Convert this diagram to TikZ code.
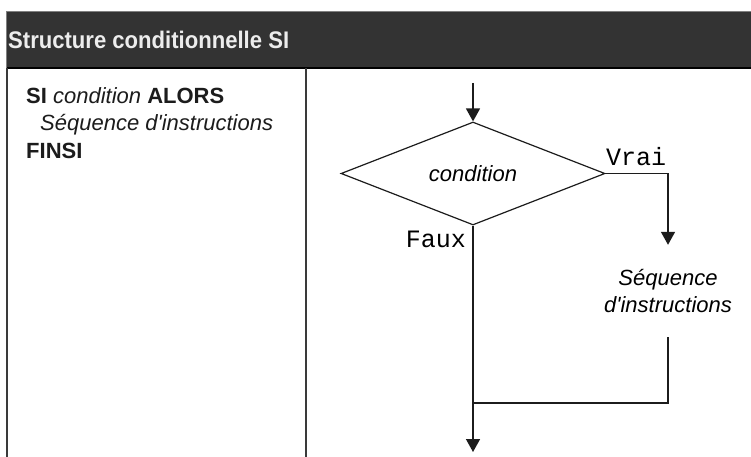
\documentclass[tikz,border=0pt]{standalone}
\usepackage{fontspec}
\setmainfont{Liberation Sans}
\newfontfamily\monofont{Liberation Mono}
\usepackage{graphicx}
\usepackage{xcolor}
\usetikzlibrary{arrows.meta,shapes.geometric}
\definecolor{bandgray}{HTML}{333333}
\definecolor{rulegray}{HTML}{3A3A3A}
\definecolor{inkgray}{HTML}{1C1C1C}

\begin{document}
\begin{tikzpicture}[x=1pt, y=-1pt, line join=miter, flow/.style={line width=1.4pt, draw=inkgray}, arrow/.style={flow, -{Triangle[width=14pt,length=13pt]}}, test node/.style={diamond, draw=inkgray, line width=1.2pt, aspect=2.56, inner sep=0pt, minimum width=264pt, minimum height=103pt, font=\fontsize{22}{26}\selectfont\itshape}, seq node/.style={align=center, inner sep=0pt, minimum height=92pt, font=\fontsize{22}{27}\selectfont\itshape}, label node/.style={inner sep=0pt, font=\monofont\fontsize{25}{25}\selectfont}, code node/.style={inner sep=0pt, anchor=base west, text=inkgray, font=\fontsize{22}{26}\selectfont}]
\useasboundingbox (0,0) rectangle (751,457);
\fill[white] (0,0) rectangle (751,457);
\fill[bandgray] (6,12) rectangle (751,68);
\draw[gray, line width=1pt] (6,12) -- (751,12);
\draw[black, line width=1.5pt] (6,68) -- (751,68);
\draw[gray, line width=1pt] (6,12) -- (6,68);
\draw[rulegray, line width=1.6pt] (7,68) -- (7,457) (306,68) -- (306,457);
\node[inner sep=0pt, anchor=base west, text=white!93!black, font=\fontsize{24}{28}\selectfont\bfseries] (title) at (8,49) {\scalebox{0.92}[1]{Structure conditionnelle SI}};
\node[code node] (si) at (26,104) {\textbf{SI} \textit{condition} \textbf{ALORS}};
\node[code node] (corps) at (40,131) {\textit{Séquence d\textquotesingle instructions}};
\node[code node] (finsi) at (26,158) {\textbf{FINSI}};
\coordinate (entree) at (473,83);
\node[test node] (cond) at (473,173.5) {condition};
\node[seq node] (seq) at (668,291) {Séquence\\d\textquotesingle instructions};
\coordinate (join) at (473,403);
\coordinate (sortie) at (473,452);
\node[label node, anchor=base west] (vrai) at (606,165) {Vrai};
\node[label node, anchor=base east] (faux) at (466,247) {Faux};
\draw[arrow] (entree) -- (cond.north);
\draw[arrow] (cond.east) -| (seq.north);
\draw[arrow] (cond.south) -- (sortie);
\draw[flow] (seq.south) |- (join);
\end{tikzpicture}
\end{document}
